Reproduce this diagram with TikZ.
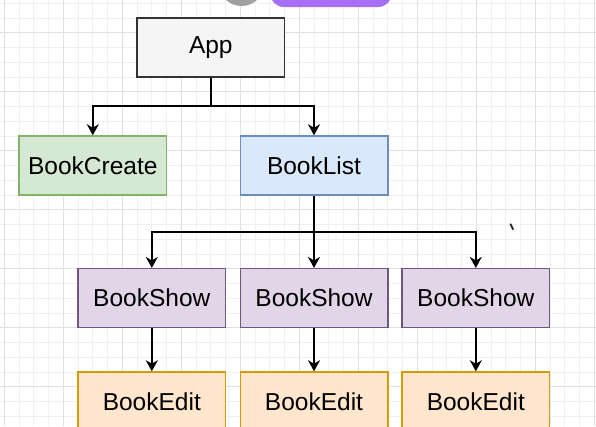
\documentclass[tikz,border=0pt]{standalone}
\usepackage{fontspec}
\setmainfont{Liberation Sans}
\usetikzlibrary{arrows.meta}
\definecolor{appfill}{HTML}{F5F5F5}
\definecolor{appdraw}{HTML}{333333}
\definecolor{crfill}{HTML}{D5E8D4}
\definecolor{crdraw}{HTML}{82B366}
\definecolor{lsfill}{HTML}{DAE8FC}
\definecolor{lsdraw}{HTML}{6C8EBF}
\definecolor{shfill}{HTML}{E1D5E7}
\definecolor{shdraw}{HTML}{6E5880}
\definecolor{edfill}{HTML}{FFE6CC}
\definecolor{eddraw}{HTML}{D79B00}
\definecolor{minorgridc}{HTML}{F0F0F0}
\definecolor{majorgridc}{HTML}{E0E0E0}
\definecolor{topgray}{HTML}{A0A0A0}
\definecolor{toppurple}{HTML}{A76FF7}
\tikzset{
  box/.style={rectangle, minimum width=147.5pt, minimum height=59pt, line width=1.5pt, inner sep=0pt,
    font=\fontsize{24.5}{28}\selectfont, text=black},
  appbox/.style={box, fill=appfill, draw=appdraw},
  crbox/.style={box, fill=crfill, draw=crdraw},
  lsbox/.style={box, fill=lsfill, draw=lsdraw},
  shbox/.style={box, fill=shfill, draw=shdraw},
  edbox/.style={box, fill=edfill, draw=eddraw},
  conn/.style={line width=2pt, draw=black},
  arr/.style={conn, -{Stealth[length=11pt,width=12pt,inset=3.5pt]}},
  minorgrid/.style={draw=minorgridc, line width=0.8pt},
  majorgrid/.style={draw=majorgridc, line width=1pt}
}
\begin{document}
\begin{tikzpicture}[x=1pt,y=-1pt]
\useasboundingbox (0,0) rectangle (596,426);
\clip (0,0) rectangle (596,426);
\fill[white] (0,0) rectangle (596,426);
% grid
\foreach \i in {0,...,40} { \draw[minorgrid] ({4.3+\i*14.75},0) -- ++(0,426); }
\foreach \i in {0,...,29} { \draw[minorgrid] (0,{3.2+\i*14.75}) -- ++(596,0); }
\foreach \i in {0,...,10} { \draw[majorgrid] ({4.3+\i*59},0) -- ++(0,426); }
\foreach \i in {0,...,7} { \draw[majorgrid] (0,{32.7+\i*59}) -- ++(596,0); }
% top partial shapes
\fill[topgray] (241.5,-17) circle (23);
\fill[toppurple, rounded corners=14pt] (270,-40) rectangle (392,7);
% cursor mark
\fill[black!85] (509.5,224) -- (511,223.3) -- (514,229) -- (512.5,230.2) -- cycle;
% nodes
\node[appbox] (app) at (210.8,47.4) {App};
\node[crbox] (create) at (92.8,165.5) {BookCreate};
\node[lsbox] (list) at (314,165.5) {BookList};
\node[shbox] (show1) at (151.8,298.2) {BookShow};
\node[shbox] (show2) at (314,298.2) {BookShow};
\node[shbox] (show3) at (475.8,298.2) {BookShow};
\node[edbox] (edit1) at (151.8,401.5) {BookEdit};
\node[edbox] (edit2) at (314,401.5) {BookEdit};
\node[edbox] (edit3) at (475.8,401.5) {BookEdit};
% junctions
\coordinate (j1) at (210.8,106.45);
\coordinate (j2) at (314,232);
% connectors
\draw[conn] (app.south) -- (j1);
\draw[arr] (j1) -| (create.north);
\draw[arr] (j1) -| (list.north);
\draw[arr] (list.south) -- (show2.north);
\draw[arr] (j2) -| (show1.north);
\draw[arr] (j2) -| (show3.north);
\draw[arr] (show1.south) -- (edit1.north);
\draw[arr] (show2.south) -- (edit2.north);
\draw[arr] (show3.south) -- (edit3.north);
\end{tikzpicture}
\end{document}
